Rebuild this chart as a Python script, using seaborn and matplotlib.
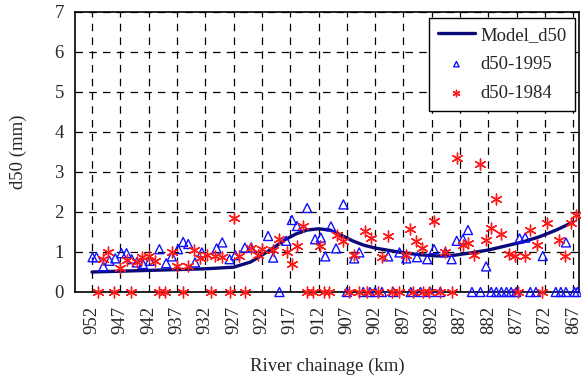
import numpy as np
import pandas as pd
import matplotlib
matplotlib.use('Agg')
import matplotlib.pyplot as plt
import seaborn as sns

# Model d50 along the river (km, mm)
model_km = [952, 947, 942, 937, 932, 927, 924, 922, 920, 918, 916, 914, 912, 910,
            908, 906, 904, 902, 900, 897, 894, 891, 888, 885, 882, 879, 876, 873, 870, 867]
model_d50 = [0.50, 0.52, 0.54, 0.56, 0.58, 0.62, 0.75, 0.92, 1.10, 1.30, 1.45, 1.55, 1.58, 1.55,
             1.42, 1.28, 1.17, 1.10, 1.05, 0.98, 0.93, 0.90, 0.92, 0.98, 1.05, 1.15, 1.25, 1.38, 1.55, 1.75]

# Measured d50 - 1995
km_1995 = [951.9, 951.2, 950.0, 948.9, 947.9, 946.8, 945.9, 945.0, 944.1, 943.0, 941.8, 940.1,
           938.9, 937.9, 936.8, 935.9, 935.0, 933.8, 932.6, 930.0, 929.0, 927.7, 926.7, 925.0,
           923.9, 920.9, 920.0, 917.7, 916.7, 915.8, 914.0, 912.6, 911.6, 910.8, 909.8, 908.9,
           907.6, 905.7, 904.8, 899.7, 897.7, 896.5, 894.6, 892.8, 891.6, 889.6, 888.5, 887.6,
           886.5, 885.6, 882.4, 876.5, 875.5, 872.4, 868.3,
           918.9, 907.0, 904.1, 902.9, 902.0, 900.8, 898.8, 895.7, 894.0, 892.3, 890.5, 884.9,
           883.4, 881.5, 880.6, 879.7, 878.8, 878.0, 877.1, 874.6, 873.6, 870.1, 869.2, 868.3,
           866.8, 866.3]
d50_1995 = [0.87, 0.87, 0.64, 0.78, 0.84, 0.97, 0.97, 0.82, 0.74, 0.70, 0.78, 1.07,
            0.72, 0.89, 1.07, 1.25, 1.20, 0.74, 0.99, 1.09, 1.24, 0.82, 0.92, 1.11,
            1.11, 1.40, 0.86, 1.28, 1.80, 1.65, 2.10, 1.32, 1.36, 0.89, 1.64, 1.09,
            2.19, 0.84, 0.99, 0.89, 0.99, 0.84, 0.87, 0.82, 1.07, 0.99, 0.82, 1.28,
            1.32, 1.55, 0.64, 1.34, 1.36, 0.90, 1.24,
            0, 0, 0, 0, 0, 0, 0, 0, 0, 0, 0, 0,
            0, 0, 0, 0, 0, 0, 0, 0, 0, 0, 0, 0,
            0, 0]

# Measured d50 - 1984
km_1984 = [950.0, 949.1, 947.0, 945.9, 944.1, 943.2, 941.9, 940.9, 937.9, 936.9, 935.0, 934.0,
           932.9, 931.7, 930.3, 929.1, 926.9, 926.0, 923.9, 922.6, 921.9, 920.1, 918.9, 917.6,
           916.7, 915.8, 914.8, 911.7, 908.8, 907.7, 905.7, 903.8, 902.7, 900.8, 899.7, 896.5,
           895.8, 894.8, 893.8, 891.6, 889.6, 887.6, 886.5, 885.6, 884.6, 883.4, 882.4, 881.6,
           880.6, 879.7, 878.4, 877.3, 875.5, 874.6, 873.4, 871.6, 869.6, 868.4, 867.5, 866.5,
           950.9, 948.1, 945.1, 940.1, 939.1, 935.9, 930.9, 927.7, 925.0, 914.1, 913.0, 911.1,
           910.1, 906.7, 904.8, 903.5, 901.5, 899.1, 897.8, 895.4, 893.6, 892.5, 890.6, 888.4,
           876.7, 872.5]
d50_1984 = [0.82, 0.99, 0.59, 0.80, 0.74, 0.87, 0.90, 0.78, 1.00, 0.64, 0.66, 1.05,
            0.85, 0.92, 0.89, 0.87, 1.84, 0.89, 1.10, 0.92, 1.07, 1.05, 1.32, 0.99,
            0.70, 1.14, 1.64, 1.14, 1.42, 1.28, 0.92, 1.53, 1.36, 0.87, 1.40, 0.92,
            1.57, 1.28, 1.11, 1.78, 1.00, 3.36, 1.17, 1.22, 0.92, 3.19, 1.30, 1.61,
            2.32, 1.45, 0.95, 0.90, 0.89, 1.55, 1.17, 1.72, 1.30, 0.90, 1.72, 1.92,
            0, 0, 0, 0, 0, 0, 0, 0, 0, 0, 0, 0,
            0, 0, 0, 0, 0, 0, 0, 0, 0, 0, 0, 0,
            0, 0]

x_ticks = list(range(952, 866, -5))

sns.set_theme(style='white')
plt.rcParams['font.family'] = ['Liberation Serif', 'DejaVu Serif']
plt.rcParams['font.size'] = 13.5

fig = plt.figure(figsize=(5.81, 3.90), dpi=100)
ax = fig.add_axes([75 / 581, 1 - 292 / 390, 504 / 581, 280 / 390])

model_df = pd.DataFrame({'km': model_km, 'd50': model_d50})
df95 = pd.DataFrame({'km': km_1995, 'd50': d50_1995})
df84 = pd.DataFrame({'km': km_1984, 'd50': d50_1984})

sns.lineplot(data=model_df, x='km', y='d50', ax=ax, color='#0a0a78', linewidth=2.4,
             label='Model_d50', zorder=3)
sns.scatterplot(data=df95, x='km', y='d50', ax=ax, marker='^', s=42,
                facecolors='none', edgecolor='#1010ff', linewidth=1.0,
                label='d50-1995', clip_on=False, zorder=4)
sns.scatterplot(data=df84, x='km', y='d50', ax=ax, marker=(6, 2, 0), s=60,
                color='#ff1a1a', edgecolor='#ff1a1a', linewidth=1.0,
                label='d50-1984', clip_on=False, zorder=4)

ax.set_xlim(955, 866)
ax.set_ylim(0, 7)
ax.set_xticks(x_ticks)
ax.set_xticklabels([str(t) for t in x_ticks], rotation=90)
ax.set_yticks(range(0, 8))
ax.tick_params(axis='both', direction='in', length=3, color='black', labelsize=13.5)
ax.tick_params(axis='x', pad=10)
ax.tick_params(axis='y', pad=8)

ax.grid(True, color='black', linestyle=(0, (6, 5)), linewidth=0.9)
for s in ax.spines.values():
    s.set_color('black')
    s.set_linewidth(1.2)

ax.set_xlabel('River chainage (km)', fontsize=13.5, labelpad=17)
ax.set_ylabel('d50 (mm)', fontsize=13.5, labelpad=20)

leg = ax.legend(loc='upper right', bbox_to_anchor=(0.993, 0.978), frameon=True,
                fancybox=False, framealpha=1, edgecolor='black', fontsize=13.5,
                borderaxespad=0, handlelength=2.0, handletextpad=0.3,
                labelspacing=0.65, markerscale=0.6, borderpad=0.45)
leg.get_frame().set_linewidth(1.0)

fig.savefig('out.png', dpi=100)
